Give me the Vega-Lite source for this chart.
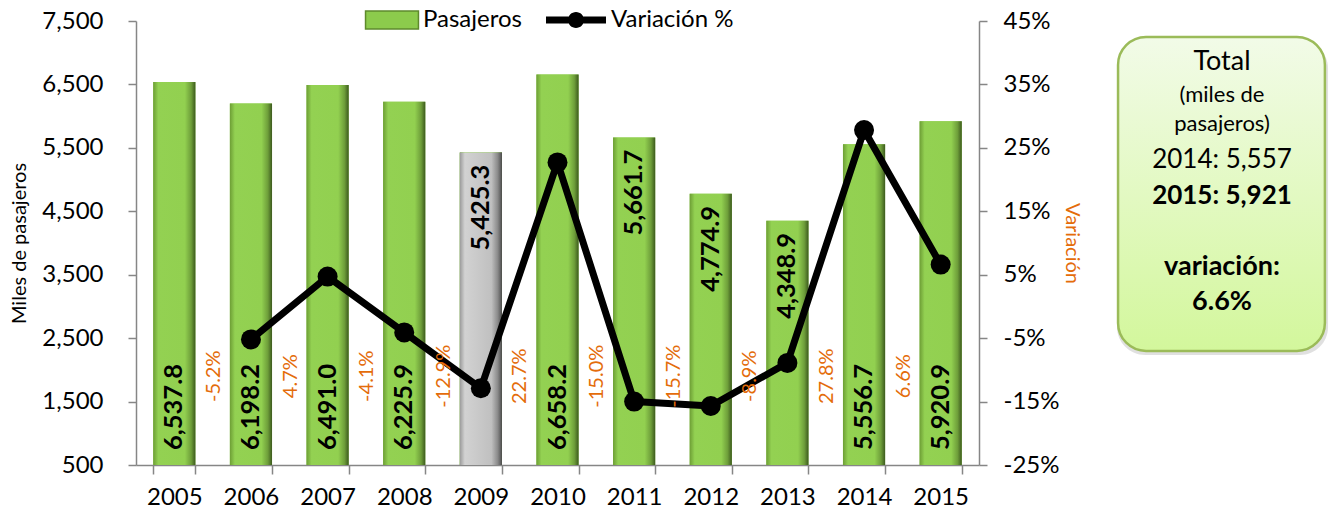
{
  "$schema": "https://vega.github.io/schema/vega-lite/v6.json",
  "background": "white",
  "padding": {"left": 9, "top": 8, "right": 0, "bottom": 0},
  "config": {
    "font": "Lato",
    "locale": {"number": {"decimal": ".", "thousands": ",", "grouping": [3], "currency": ["$", ""], "minus": "-"}},
    "view": {"stroke": null},
    "axis": {"domainColor": "#868686", "domainWidth": 1.5, "tickColor": "#868686", "tickWidth": 1.5, "tickSize": 8, "labelColor": "black", "labelFont": "Lato", "labelFontSize": 24, "titleFont": "Lato", "titleFontWeight": "normal", "titleColor": "black", "grid": false},
    "legend": {"labelFont": "Lato", "labelFontSize": 24, "labelColor": "black", "title": null}
  },
  "spacing": 34,
  "resolve": {"scale": {"fill": "independent", "stroke": "independent"}, "legend": {"fill": "independent", "stroke": "independent"}},
  "hconcat": [
    {
      "width": 843,
      "height": 444,
      "data": {"values": [
        {"anio": "2005", "pasajeros": 6537.8, "variacion": null},
        {"anio": "2006", "pasajeros": 6198.2, "variacion": -0.052},
        {"anio": "2007", "pasajeros": 6491.0, "variacion": 0.047},
        {"anio": "2008", "pasajeros": 6225.9, "variacion": -0.041},
        {"anio": "2009", "pasajeros": 5425.3, "variacion": -0.129},
        {"anio": "2010", "pasajeros": 6658.2, "variacion": 0.227},
        {"anio": "2011", "pasajeros": 5661.7, "variacion": -0.150},
        {"anio": "2012", "pasajeros": 4774.9, "variacion": -0.157},
        {"anio": "2013", "pasajeros": 4348.9, "variacion": -0.089},
        {"anio": "2014", "pasajeros": 5556.7, "variacion": 0.278},
        {"anio": "2015", "pasajeros": 5920.9, "variacion": 0.066}
      ]},
      "encoding": {
        "x": {"field": "anio", "type": "ordinal", "scale": {"paddingInner": 0.45, "paddingOuter": 0.225},
              "axis": {"title": null, "labelAngle": 0, "tickBand": "extent", "tickSize": 9, "labelPadding": 11, "labelFontSize": 24}}
      },
      "resolve": {"scale": {"y": "independent"}},
      "layer": [
        {
          "encoding": {
            "y": {"field": "pasajeros", "type": "quantitative",
                  "scale": {"domain": [500, 7500], "nice": false, "zero": false},
                  "axis": {"values": [500, 1500, 2500, 3500, 4500, 5500, 6500, 7500], "format": ",.0f", "title": "Miles de pasajeros", "titleFontSize": 20, "titlePadding": 12, "labelPadding": 25}}
          },
          "layer": [
            {
              "mark": {"type": "bar"},
              "encoding": {
                "y2": {"datum": 500},
                "fill": {"datum": "Pasajeros", "type": "nominal",
                         "scale": {"range": ["#8CCB4C"]},
                         "legend": {"orient": "none", "legendX": 244, "legendY": -13, "symbolType": "M-2.94,-1L2.94,-1L2.94,1L-2.94,1Z", "symbolSize": 324, "symbolStrokeColor": "#5E8A2C", "symbolStrokeWidth": 1.5, "labelOffset": 19}}
              }
            },
            {
              "mark": {"type": "bar", "fill": {"gradient": "linear", "x1": 0, "y1": 0, "x2": 1, "y2": 0, "stops": [
                {"offset": 0, "color": "#6D9E35"}, {"offset": 0.12, "color": "#93D152"}, {"offset": 0.75, "color": "#92D050"}, {"offset": 0.9, "color": "#6E9E3A"}, {"offset": 1, "color": "#3D5A1E"}]}},
              "encoding": {"y2": {"datum": 500}}
            },
            {
              "transform": [{"filter": "datum.anio == '2009'"}],
              "mark": {"type": "bar", "fill": {"gradient": "linear", "x1": 0, "y1": 0, "x2": 1, "y2": 0, "stops": [
                {"offset": 0, "color": "#9A9A9A"}, {"offset": 0.12, "color": "#D2D2D2"}, {"offset": 0.75, "color": "#C0C0C0"}, {"offset": 0.9, "color": "#8A8A8A"}, {"offset": 1, "color": "#4D4D4D"}]}},
              "encoding": {"y2": {"datum": 500}}
            },
            {
              "transform": [{"filter": "indexof(['2009','2011','2012','2013'], datum.anio) < 0"}],
              "mark": {"type": "text", "angle": 270, "align": "left", "baseline": "middle", "dx": 15, "fontSize": 25.5, "fontWeight": "bold", "color": "black"},
              "encoding": {"y": {"datum": 500}, "text": {"field": "pasajeros", "type": "quantitative", "format": ",.1f"}}
            },
            {
              "transform": [{"filter": "indexof(['2009','2011','2012','2013'], datum.anio) >= 0"}],
              "mark": {"type": "text", "angle": 270, "align": "right", "baseline": "middle", "dx": -12, "fontSize": 25.5, "fontWeight": "bold", "color": "black"},
              "encoding": {"text": {"field": "pasajeros", "type": "quantitative", "format": ",.1f"}}
            }
          ]
        },
        {
          "transform": [{"filter": "datum.variacion != null"}],
          "encoding": {
            "y": {"field": "variacion", "type": "quantitative",
                  "scale": {"domain": [-0.25, 0.45], "nice": false, "zero": false},
                  "axis": {"orient": "right", "values": [-0.25, -0.15, -0.05, 0.05, 0.15, 0.25, 0.35, 0.45], "format": ".0%", "title": "Variación", "titleColor": "#E46C0A", "titleFontSize": 20, "titlePadding": 3, "labelPadding": 16}}
          },
          "layer": [
            {
              "mark": {"type": "line", "strokeWidth": 7, "strokeJoin": "round"},
              "encoding": {
                "stroke": {"datum": "Variación %", "type": "nominal", "scale": {"range": ["black"]},
                           "legend": {"orient": "none", "legendX": 428, "legendY": -13,
                                      "symbolType": "M-3.75,-0.45L3.75,-0.45L3.75,0.45L-3.75,0.45Z M-1,0A1,1,0,1,1,1,0A1,1,0,1,1,-1,0Z",
                                      "symbolSize": 256, "symbolFillColor": "black", "symbolStrokeWidth": 0, "labelOffset": 23,
                                      "encode": {"symbols": {"update": {"fill": {"value": "black"}, "strokeWidth": {"value": 0}}}}}}
              }
            },
            {
              "mark": {"type": "point", "filled": true, "size": 400, "color": "black", "opacity": 1}
            },
            {
              "mark": {"type": "text", "angle": 270, "align": "center", "baseline": "middle", "dy": -16, "fontSize": 20, "color": "#E46C0A"},
              "encoding": {
                "x": {"field": "anio", "type": "ordinal", "bandPosition": 0},
                "y": {"datum": -0.11},
                "text": {"field": "variacion", "type": "quantitative", "format": ".1%"}
              }
            }
          ]
        }
      ]
    },
    {
      "width": 210,
      "height": 444,
      "data": {"values": [{}]},
      "layer": [
        {
          "mark": {"type": "rect", "opacity": 0},
          "encoding": {
            "x": {"datum": 0, "type": "quantitative", "scale": {"domain": [0, 1]}, "axis": null},
            "x2": {"datum": 1},
            "y": {"datum": 0, "type": "quantitative", "scale": {"domain": [0, 1], "reverse": true}, "axis": null},
            "y2": {"datum": 1}
          }
        },
        {
          "mark": {"type": "rect", "cornerRadius": 28, "fill": "#000000", "opacity": 0.12},
          "encoding": {
            "x": {"datum": 0.0, "type": "quantitative", "scale": {"domain": [0, 1]}, "axis": null},
            "x2": {"datum": 1.005},
            "y": {"datum": 0.044, "type": "quantitative", "scale": {"domain": [0, 1], "reverse": true}, "axis": null},
            "y2": {"datum": 0.752}
          }
        },
        {
          "mark": {"type": "rect", "cornerRadius": 28, "stroke": "#9BBB59", "strokeWidth": 2.5,
                   "fill": {"gradient": "linear", "x1": 0, "y1": 0, "x2": 0, "y2": 1, "stops": [{"offset": 0, "color": "#F2FBE8"}, {"offset": 1, "color": "#D3F79C"}]}},
          "encoding": {
            "x": {"datum": 0.005, "type": "quantitative", "scale": {"domain": [0, 1]}, "axis": null},
            "x2": {"datum": 0.99},
            "y": {"datum": 0.036, "type": "quantitative", "scale": {"domain": [0, 1], "reverse": true}, "axis": null},
            "y2": {"datum": 0.743}
          }
        },
        {
          "mark": {"type": "text", "text": "Total", "fontSize": 27, "baseline": "middle", "align": "center", "color": "black"},
          "encoding": {"x": {"datum": 0.5, "type": "quantitative", "scale": {"domain": [0, 1]}, "axis": null}, "y": {"datum": 0.0923, "type": "quantitative", "scale": {"domain": [0, 1], "reverse": true}, "axis": null}}
        },
        {
          "mark": {"type": "text", "text": "(miles de", "fontSize": 22, "baseline": "middle", "align": "center", "color": "black"},
          "encoding": {"x": {"datum": 0.5, "type": "quantitative", "scale": {"domain": [0, 1]}, "axis": null}, "y": {"datum": 0.1667, "type": "quantitative", "scale": {"domain": [0, 1], "reverse": true}, "axis": null}}
        },
        {
          "mark": {"type": "text", "text": "pasajeros)", "fontSize": 22, "baseline": "middle", "align": "center", "color": "black"},
          "encoding": {"x": {"datum": 0.5, "type": "quantitative", "scale": {"domain": [0, 1]}, "axis": null}, "y": {"datum": 0.232, "type": "quantitative", "scale": {"domain": [0, 1], "reverse": true}, "axis": null}}
        },
        {
          "mark": {"type": "text", "text": "2014: 5,557", "fontSize": 26, "baseline": "middle", "align": "center", "color": "black"},
          "encoding": {"x": {"datum": 0.5, "type": "quantitative", "scale": {"domain": [0, 1]}, "axis": null}, "y": {"datum": 0.313, "type": "quantitative", "scale": {"domain": [0, 1], "reverse": true}, "axis": null}}
        },
        {
          "mark": {"type": "text", "text": "2015: 5,921", "fontSize": 26, "fontWeight": "bold", "baseline": "middle", "align": "center", "color": "black"},
          "encoding": {"x": {"datum": 0.5, "type": "quantitative", "scale": {"domain": [0, 1]}, "axis": null}, "y": {"datum": 0.394, "type": "quantitative", "scale": {"domain": [0, 1], "reverse": true}, "axis": null}}
        },
        {
          "mark": {"type": "text", "text": "variación:", "fontSize": 27, "fontWeight": "bold", "baseline": "middle", "align": "center", "color": "black"},
          "encoding": {"x": {"datum": 0.5, "type": "quantitative", "scale": {"domain": [0, 1]}, "axis": null}, "y": {"datum": 0.554, "type": "quantitative", "scale": {"domain": [0, 1], "reverse": true}, "axis": null}}
        },
        {
          "mark": {"type": "text", "text": "6.6%", "fontSize": 27, "fontWeight": "bold", "baseline": "middle", "align": "center", "color": "black"},
          "encoding": {"x": {"datum": 0.5, "type": "quantitative", "scale": {"domain": [0, 1]}, "axis": null}, "y": {"datum": 0.633, "type": "quantitative", "scale": {"domain": [0, 1], "reverse": true}, "axis": null}}
        }
      ]
    }
  ]
}
